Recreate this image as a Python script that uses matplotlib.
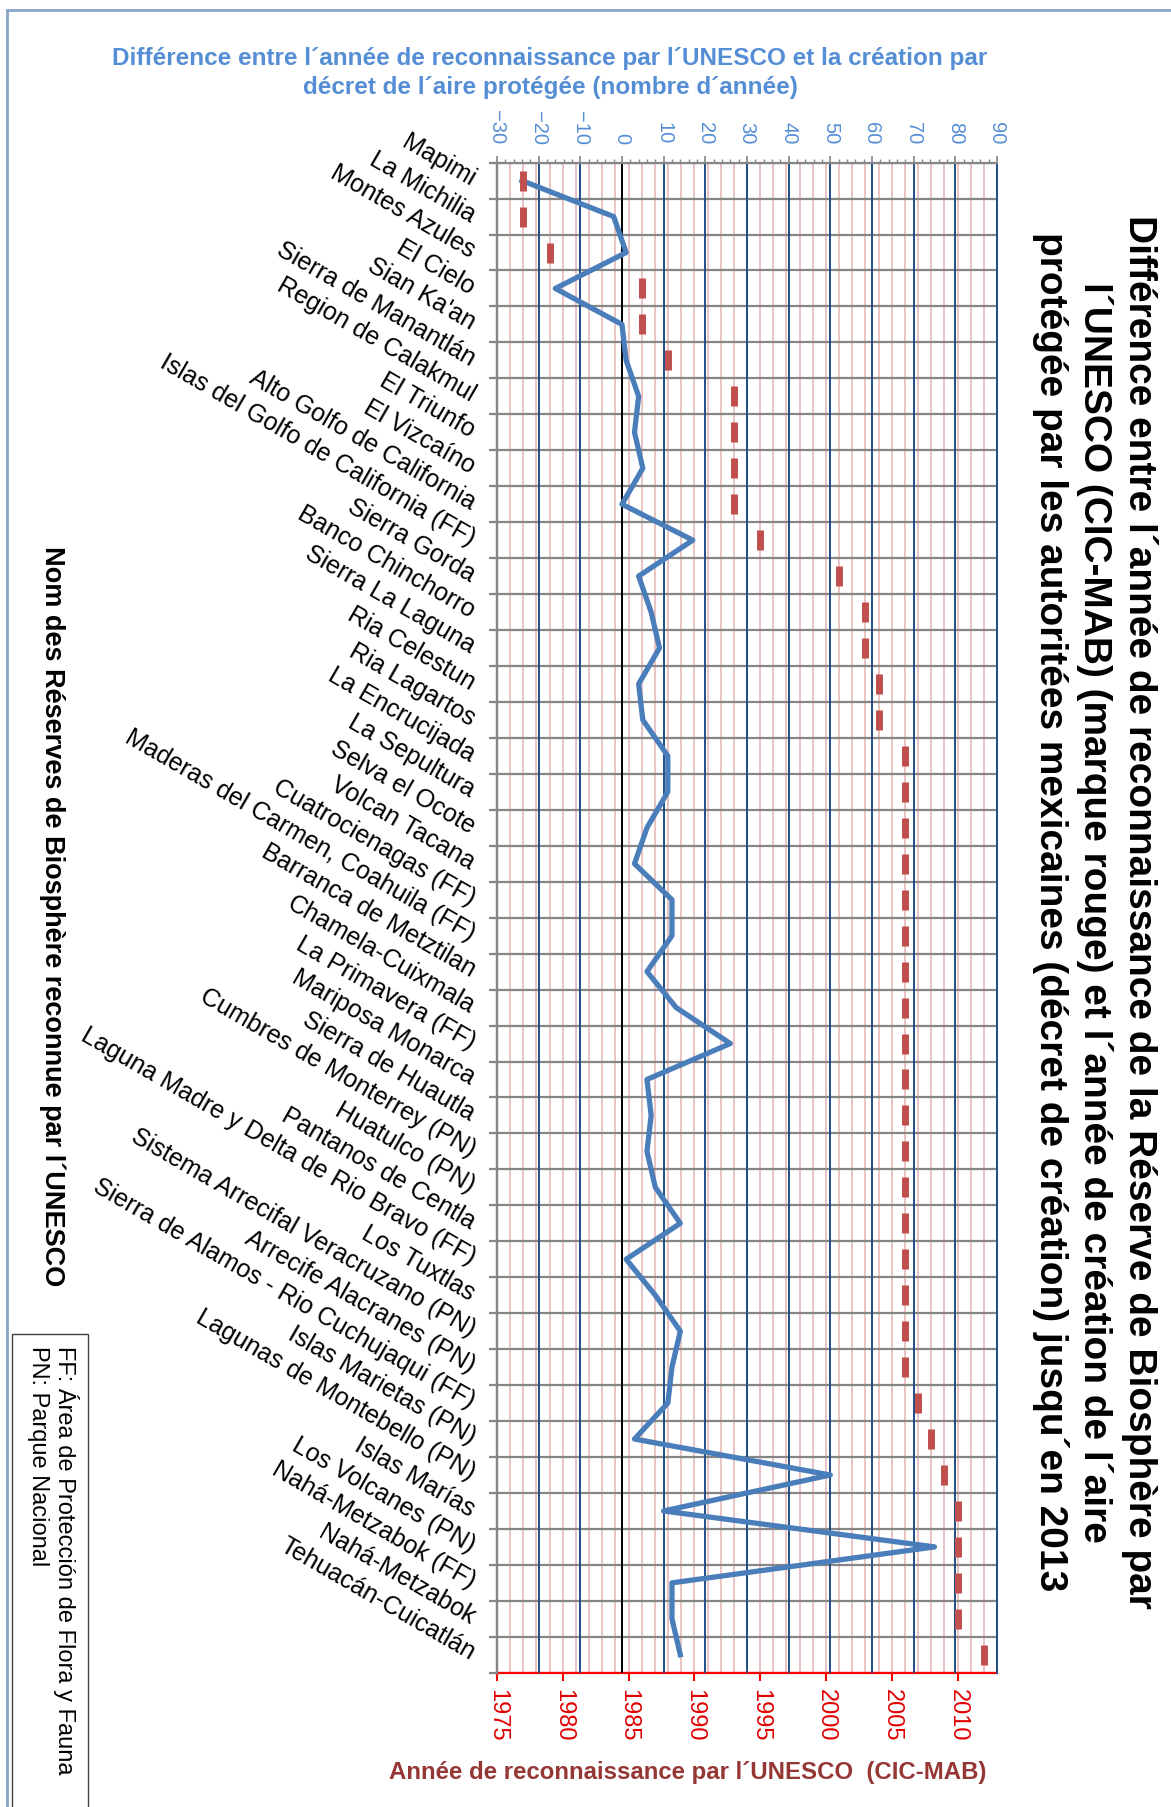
import matplotlib.pyplot as plt
import numpy as np
from matplotlib.patches import Rectangle

plt.rcParams['font.family'] = ['Liberation Sans', 'DejaVu Sans']

# noms des reserves (de haut en bas)
reserves = ["Mapimi", "La Michilia", "Montes Azules", "El Cielo", "Sian Ka'an",
            "Sierra de Manantlán", "Region de Calakmul", "El Triunfo", "El Vizcaíno",
            "Alto Golfo de California", "Islas del Golfo de California (FF)",
            "Sierra Gorda", "Banco Chinchorro", "Sierra La Laguna", "Ria Celestun",
            "Ria Lagartos", "La Encrucijada", "La Sepultura", "Selva el Ocote",
            "Volcan Tacana", "Cuatrocienagas (FF)", "Maderas del Carmen, Coahuila (FF)",
            "Barranca de Metztilan", "Chamela-Cuixmala", "La Primavera (FF)",
            "Mariposa Monarca", "Sierra de Huautla", "Cumbres de Monterrey (PN)",
            "Huatulco (PN)", "Pantanos de Centla", "Laguna Madre y Delta de Rio Bravo (FF)",
            "Los Tuxtlas", "Sistema Arrecifal Veracruzano (PN)", "Arrecife Alacranes (PN)",
            "Sierra de Alamos - Rio Cuchujaqui (FF)", "Islas Marietas (PN)",
            "Lagunas de Montebello (PN)", "Islas Marías", "Los Volcanes (PN)",
            "Nahá-Metzabok (FF)", "Nahá-Metzabok", "Tehuacán-Cuicatlán"]

# annee de reconnaissance UNESCO (marque rouge)
annee_unesco = [1977, 1977, 1979, 1986, 1986, 1988, 1993, 1993, 1993, 1993, 1995,
                2001, 2003, 2003, 2004, 2004, 2006, 2006, 2006, 2006, 2006, 2006,
                2006, 2006, 2006, 2006, 2006, 2006, 2006, 2006, 2006, 2006, 2006,
                2006, 2007, 2008, 2009, 2010, 2010, 2010, 2010, 2012]

# difference UNESCO - decret (nombre d'annees)
difference = [-24, -2, 1, -16, 0, 1, 4, 3, 5, 0, 17, 4, 7, 9, 4, 5, 11, 11, 6, 3,
              12, 12, 6, 13, 26, 6, 7, 6, 8, 14, 1, 8, 14, 12, 11, 3, 50, 10, 75,
              12, 12, 14]

annees_ticks = list(range(1975, 2014, 5))
diff_ticks = list(range(-30, 91, 10))

y = np.arange(len(reserves))

fig = plt.figure(figsize=(11.71, 18.07), dpi=100)
ax = fig.add_axes([0.4244, 0.0743, 0.4270, 0.8357])
ax.set_axisbelow(True)

# axe des annees (bas)
ax.set_xticks(annees_ticks)
ax.set_xticks(np.arange(1975, 2014, 1), minor=True)
ax.grid(which='both', axis='x', color='#e6b9b8', lw=1.2)
ax.set_yticks(np.arange(-0.5, len(reserves), 1), minor=True)
ax.grid(which='minor', axis='y', color='#868686', lw=1.6)
ax.set_yticks(y)
ax.set_yticklabels(reserves, fontsize=18, rotation=-30, ha='right', va='center',
                   rotation_mode='anchor')
ax.tick_params(axis='y', which='major', length=0, pad=17)
ax.tick_params(axis='y', which='minor', length=6, width=1.6, color='#868686', direction='out')
ax.tick_params(axis='x', which='major', length=6, width=1.5, color='red',
               labelcolor='#e00000', labelsize=17, pad=6)
ax.tick_params(axis='x', which='minor', length=0)
plt.setp(ax.get_xticklabels(), rotation=-90)
for s in ['top', 'right']:
    ax.spines[s].set_visible(False)
ax.spines['bottom'].set_color('red')
ax.spines['bottom'].set_linewidth(1.6)
ax.spines['left'].set_color('#868686')
ax.spines['left'].set_linewidth(1.6)

# axe des differences (haut)
ax2 = ax.twiny()
ax2.set_axisbelow(True)
ax2.plot(difference, y, color='#4a7ebb', lw=3.8, zorder=3, solid_joinstyle='round')
ax2.plot(annee_unesco, y, transform=ax.transData, ls='none', marker='|', ms=15, mew=5,
         color='#c0504d', zorder=4)
ax2.axvline(0, color='black', lw=1.4, zorder=2)
ax2.set_xticks(diff_ticks)
ax2.set_xticks(np.arange(-30, 91, 2), minor=True)
ax2.grid(which='major', axis='x', color='#1f4e86', lw=1.4)
ax2.tick_params(axis='x', which='major', length=5, width=1.2, color='#868686',
                labelcolor='#558ed5', labelsize=14.5, pad=8)
ax2.tick_params(axis='x', which='minor', length=3, width=1, color='#868686')
plt.setp(ax2.get_xticklabels(), rotation=-90)
ax2.spines['bottom'].set_visible(False)
ax2.spines['top'].set_color('#868686')
ax2.spines['top'].set_linewidth(1.6)
ax2.spines['left'].set_color('#868686')
ax2.spines['left'].set_linewidth(1.6)
ax2.spines['right'].set_color('#1f4e86')
ax2.spines['right'].set_linewidth(1.4)

ax.set_xlim(1975, 2013)
ax2.set_xlim(-30, 90)
ax.set_ylim(len(reserves) - 0.5, -0.5)

# titres
fig.text(550 / 1171, 1 - 73 / 1807,
         "Différence entre l´année de reconnaissance par l´UNESCO et la création par\n"
         "décret de l´aire protégée (nombre d´année)",
         ha='center', va='center', fontsize=17.5, fontweight='bold', color='#558ed5',
         linespacing=1.38)
fig.text(688 / 1171, 1 - 1772 / 1807, "Année de reconnaissance par l´UNESCO  (CIC-MAB)",
         ha='center', va='center', fontsize=17.3, fontweight='bold', color='#953735')
fig.text(1095 / 1171, 1 - 912 / 1807,
         "Différence entre l´année de reconnaissance de la Réserve de Biosphère par\n"
         "l´UNESCO (CIC-MAB) (marque rouge) et l´année de création de l´aire\n"
         "protégée par les autoritées mexicaines (décret de création) jusqu´en 2013",
         rotation=-90, ha='center', va='center', multialignment='center',
         fontsize=28, fontweight='bold', linespacing=1.25)
fig.text(52 / 1171, 1 - 916 / 1807, "Nom des Réserves de Biosphère reconnue par l´UNESCO",
         rotation=-90, ha='center', va='center', fontsize=19.5, fontweight='bold')

# encadre legende
fig.patches.append(Rectangle((12 / 1171, -0.01), 76 / 1171, 0.2718, transform=fig.transFigure,
                             fill=False, edgecolor='#404040', lw=1))
fig.text(66 / 1171, 1 - 1346 / 1807, "FF: Área de Protección de Flora y Fauna",
         rotation=-90, ha='center', va='top', fontsize=17)
fig.text(38 / 1171, 1 - 1346 / 1807, "PN: Parque Nacional",
         rotation=-90, ha='center', va='top', fontsize=17)

# cadre exterieur
fig.patches.append(Rectangle((7 / 1171, -0.05), 1.1, 1 - 10 / 1807 + 0.05,
                             transform=fig.transFigure, fill=False, edgecolor='#8aa4c8', lw=2))

fig.savefig('out.png', dpi=100)
